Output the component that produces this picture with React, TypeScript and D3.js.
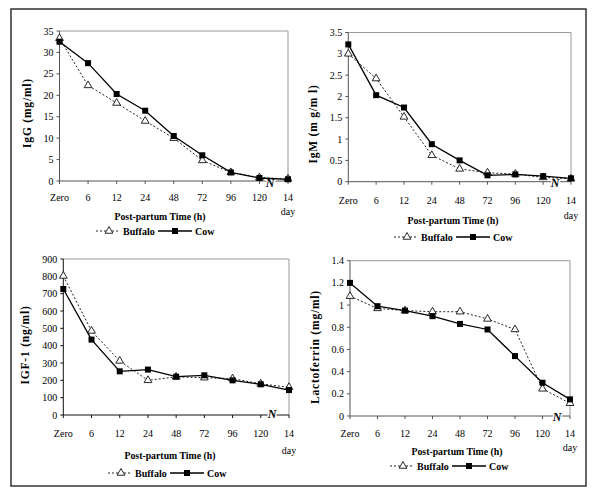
import React from "react";
import * as d3 from "d3";

const categories = ["Zero", "6", "12", "24", "48", "72", "96", "120", "14"];

const igGBuffalo = [33.3, 22.3, 18.2, 14, 10, 4.8, 2, 0.8, 0.5];
const igGCow = [32.5, 27.5, 20.3, 16.4, 10.5, 6, 2, 0.7, 0.4];
const igGTicks = [0, 5, 10, 15, 20, 25, 30, 35];

const igMBuffalo = [3.0, 2.42, 1.52, 0.62, 0.3, 0.21, 0.18, 0.1, 0.07];
const igMCow = [3.22, 2.03, 1.74, 0.88, 0.5, 0.15, 0.17, 0.13, 0.08];
const igMTicks = [0, 0.5, 1, 1.5, 2, 2.5, 3, 3.5];

const igfBuffalo = [802, 485, 312, 200, 220, 215, 210, 180, 160];
const igfCow = [727, 435, 252, 262, 221, 229, 200, 177, 144];
const igfTicks = [0, 100, 200, 300, 400, 500, 600, 700, 800, 900];

const lactoBuffalo = [1.08, 0.97, 0.95, 0.94, 0.94, 0.875, 0.78, 0.245, 0.115];
const lactoCow = [1.2, 0.99, 0.95, 0.9, 0.83, 0.78, 0.54, 0.3, 0.15];
const lactoTicks = [0, 0.2, 0.4, 0.6, 0.8, 1, 1.2, 1.4];

const FONT = "Liberation Serif, Times New Roman, serif";

type PanelProps = {
  buffalo: number[];
  cow: number[];
  ticks: number[];
  yLabel: string;
  box: { x0: number; x1: number; yTop: number; yBot: number };
  xLabelY: number;
  dayY: number;
  titleX: number;
  titleY: number;
  legendX: number;
  legendY: number;
  yTitleX: number;
  yTitleY: number;
  nX: number;
  nY: number;
  axisColor: string;
};

function Panel(p: PanelProps) {
  const { x0, x1, yTop, yBot } = p.box;
  const x = d3.scalePoint<string>().domain(categories).range([x0, x1]);
  const y = d3
    .scaleLinear()
    .domain([0, p.ticks[p.ticks.length - 1]])
    .range([yBot, yTop]);
  const line = d3
    .line<number>()
    .x((_, i) => x(categories[i]) as number)
    .y((d) => y(d));
  const fmt = (v: number) => String(+v.toFixed(2));
  const tri = d3.symbol(d3.symbolTriangle, 26)();
  const lx = p.legendX - 58;
  const txt = { fontFamily: FONT } as React.CSSProperties;
  return (
    <g style={txt}>
      <path
        d={`M${x0},${yTop}H${x1}V${yBot}`}
        fill="none"
        stroke="#9a9a9a"
        strokeWidth={1}
      />
      <line x1={x0} x2={x0} y1={yTop} y2={yBot} stroke={p.axisColor} strokeWidth={1} />
      <line x1={x0} x2={x1} y1={yBot} y2={yBot} stroke={p.axisColor} strokeWidth={1} />
      {p.ticks.map((t) => (
        <g key={t}>
          <line x1={x0 - 3} x2={x0} y1={y(t)} y2={y(t)} stroke={p.axisColor} />
          <text
            x={x0 - 6}
            y={y(t)}
            textAnchor="end"
            dominantBaseline="central"
            fontSize={10}
            style={txt}
          >
            {fmt(t)}
          </text>
        </g>
      ))}
      {categories.map((c) => (
        <g key={c}>
          <line x1={x(c)} x2={x(c)} y1={yBot} y2={yBot + 3} stroke={p.axisColor} />
          <text
            x={x(c)}
            y={p.xLabelY}
            textAnchor="middle"
            dominantBaseline="central"
            fontSize={10}
            style={txt}
          >
            {c}
          </text>
        </g>
      ))}
      <text
        x={x1}
        y={p.dayY}
        textAnchor="middle"
        dominantBaseline="central"
        fontSize={10}
        style={txt}
      >
        day
      </text>
      <text
        x={p.nX}
        y={p.nY}
        textAnchor="middle"
        dominantBaseline="central"
        fontSize={12}
        fontStyle="italic"
        fontWeight="bold"
        stroke="#fff"
        strokeWidth={3}
        paintOrder="stroke"
        style={txt}
      >
        N
      </text>
      <path d={line(p.buffalo) || ""} fill="none" stroke="#222" strokeWidth={1} strokeDasharray="2,2" />
      {p.buffalo.map((v, i) => (
        <path
          key={"b" + i}
          d={tri || ""}
          transform={`translate(${x(categories[i])},${y(v)})`}
          fill="#fff"
          stroke="#111"
          strokeWidth={0.9}
        />
      ))}
      <path d={line(p.cow) || ""} fill="none" stroke="#000" strokeWidth={1.3} />
      {p.cow.map((v, i) => (
        <rect
          key={"c" + i}
          x={(x(categories[i]) as number) - 3}
          y={y(v) - 3}
          width={6}
          height={6}
          fill="#000"
        />
      ))}
      <text
        transform={`translate(${p.yTitleX},${p.yTitleY}) rotate(-90)`}
        textAnchor="middle"
        dominantBaseline="central"
        fontSize={11.5}
        fontWeight="bold"
        letterSpacing={0.8}
        style={txt}
      >
        {p.yLabel}
      </text>
      <text
        x={p.titleX}
        y={p.titleY}
        textAnchor="middle"
        dominantBaseline="central"
        fontSize={9.8}
        fontWeight="bold"
        style={txt}
      >
        Post-partum Time (h)
      </text>
      <g>
        <line x1={lx} x2={lx + 24} y1={p.legendY} y2={p.legendY} stroke="#222" strokeDasharray="2,2" />
        <path d={tri || ""} transform={`translate(${lx + 13},${p.legendY})`} fill="#fff" stroke="#111" strokeWidth={0.9} />
        <text x={lx + 27} y={p.legendY} dominantBaseline="central" fontSize={10} fontWeight="bold" style={txt}>
          Buffalo
        </text>
        <line x1={lx + 62} x2={lx + 96} y1={p.legendY} y2={p.legendY} stroke="#000" strokeWidth={1.3} />
        <rect x={lx + 76} y={p.legendY - 3} width={6} height={6} fill="#000" />
        <text x={lx + 99} y={p.legendY} dominantBaseline="central" fontSize={10} fontWeight="bold" style={txt}>
          Cow
        </text>
      </g>
    </g>
  );
}

export default function App() {
  return (
    <svg
      width={600}
      height={492}
      style={{ position: "absolute", left: 0, top: 0, background: "#fff", fontFamily: FONT }}
    >
      <rect x={0} y={0} width={600} height={492} fill="#fff" />
      <rect x={11} y={9} width={575} height={477} fill="none" stroke="#333" strokeWidth={1.5} />
      <Panel
        buffalo={igGBuffalo}
        cow={igGCow}
        ticks={igGTicks}
        yLabel="IgG (mg/ml)"
        box={{ x0: 59.5, x1: 288, yTop: 31, yBot: 181 }}
        xLabelY={197}
        dayY={211}
        titleX={160}
        titleY={216}
        legendX={154}
        legendY={231}
        yTitleX={27}
        yTitleY={113}
        nX={270}
        nY={183}
        axisColor="#555"
      />
      <Panel
        buffalo={igMBuffalo}
        cow={igMCow}
        ticks={igMTicks}
        yLabel="IgM (m g/m l)"
        box={{ x0: 348.3, x1: 571, yTop: 32.5, yBot: 181.7 }}
        xLabelY={200}
        dayY={215}
        titleX={453}
        titleY={220}
        legendX={452}
        legendY={237}
        yTitleX={313}
        yTitleY={124}
        nX={555}
        nY={183}
        axisColor="#555"
      />
      <Panel
        buffalo={igfBuffalo}
        cow={igfCow}
        ticks={igfTicks}
        yLabel="IGF-1 (ng/ml)"
        box={{ x0: 63.3, x1: 289, yTop: 259, yBot: 415 }}
        xLabelY={433}
        dayY={450}
        titleX={170}
        titleY={455}
        legendX={166}
        legendY={473}
        yTitleX={25}
        yTitleY={345}
        nX={272}
        nY={414}
        axisColor="#111"
      />
      <Panel
        buffalo={lactoBuffalo}
        cow={lactoCow}
        ticks={lactoTicks}
        yLabel="Lactoferrin (mg/ml)"
        box={{ x0: 350, x1: 570, yTop: 260.7, yBot: 416 }}
        xLabelY={433}
        dayY={447}
        titleX={457}
        titleY={451.5}
        legendX={448}
        legendY={466}
        yTitleX={315}
        yTitleY={347}
        nX={557}
        nY={416.5}
        axisColor="#555"
      />
    </svg>
  );
}
